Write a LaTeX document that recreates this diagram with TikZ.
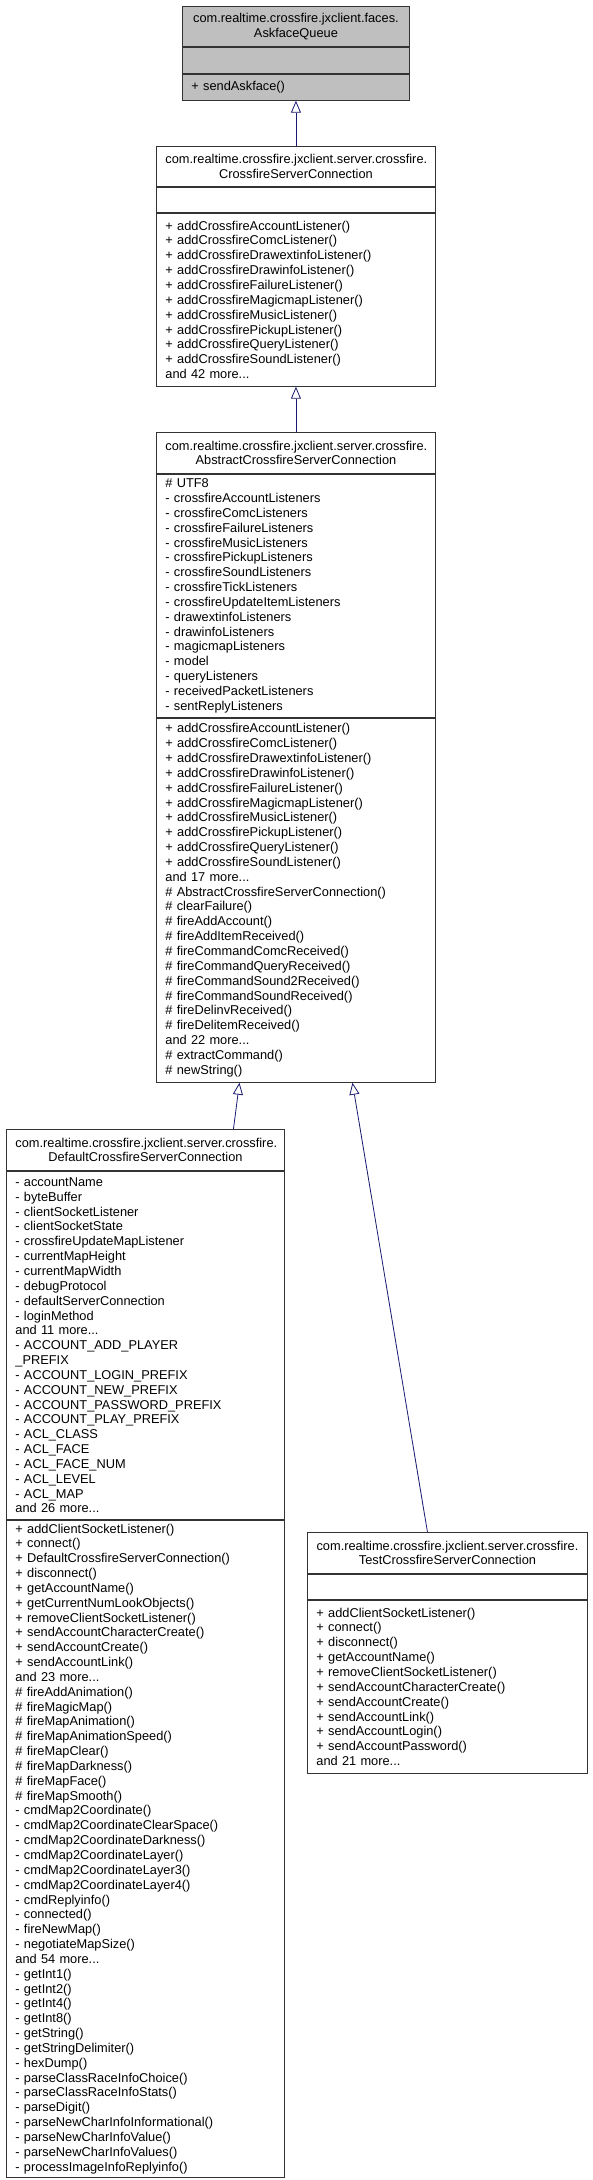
\documentclass[tikz,border=0pt]{standalone}
\usepackage{fontspec}
\setmainfont{Liberation Sans}
\usetikzlibrary{positioning,arrows.meta}
\definecolor{edgeblue}{HTML}{191970}
\definecolor{boxgray}{HTML}{BFBFBF}
\tikzset{
  part/.style={draw=black!80, line width=0.9pt, fill=white, inner xsep=9pt, inner ysep=2pt,
    text width=#1, minimum width=#1+18pt, font=\fontsize{12.8}{14.84}\selectfont},
  classhead/.style={part=#1, align=center, minimum height=40pt},
  classbody/.style 2 args={part=#1, align=left, minimum height=#2},
  inherit/.style={draw=edgeblue, line width=0.8pt, -{Triangle[length=12pt, width=10pt, fill=white]}}
}
\begin{document}
\begin{tikzpicture}[x=1pt,y=-1pt]
\useasboundingbox (0,0) rectangle (592,2180);
% AskfaceQueue
\node[classhead=209, fill=boxgray, anchor=north west] (askhead) at (182,6) {com.realtime.crossfire.jxclient.faces.\\AskfaceQueue};
\node[classbody={209}{26pt}, fill=boxgray, below=0pt of askhead] (askattr) {};
\node[classbody={209}{26pt}, fill=boxgray, below=0pt of askattr] (askmeth) {+ sendAskface()};
% CrossfireServerConnection
\node[classhead=261, anchor=north west] (connhead) at (156,146) {com.realtime.crossfire.jxclient.server.crossfire.\\CrossfireServerConnection};
\node[classbody={261}{25pt}, below=0pt of connhead] (connattr) {};
\node[classbody={261}{173pt}, below=0pt of connattr] (connmeth) {+ addCrossfireAccountListener()\\+ addCrossfireComcListener()\\+ addCrossfireDrawextinfoListener()\\+ addCrossfireDrawinfoListener()\\+ addCrossfireFailureListener()\\+ addCrossfireMagicmapListener()\\+ addCrossfireMusicListener()\\+ addCrossfirePickupListener()\\+ addCrossfireQueryListener()\\+ addCrossfireSoundListener()\\and 42 more...};
% AbstractCrossfireServerConnection
\node[classhead=261, minimum height=41pt, anchor=north west] (abshead) at (156,432) {com.realtime.crossfire.jxclient.server.crossfire.\\AbstractCrossfireServerConnection};
\node[classbody={261}{243pt}, below=0pt of abshead] (absattr) {\# UTF8\\- crossfireAccountListeners\\- crossfireComcListeners\\- crossfireFailureListeners\\- crossfireMusicListeners\\- crossfirePickupListeners\\- crossfireSoundListeners\\- crossfireTickListeners\\- crossfireUpdateItemListeners\\- drawextinfoListeners\\- drawinfoListeners\\- magicmapListeners\\- model\\- queryListeners\\- receivedPacketListeners\\- sentReplyListeners};
\node[classbody={261}{364pt}, below=0pt of absattr] (absmeth) {+ addCrossfireAccountListener()\\+ addCrossfireComcListener()\\+ addCrossfireDrawextinfoListener()\\+ addCrossfireDrawinfoListener()\\+ addCrossfireFailureListener()\\+ addCrossfireMagicmapListener()\\+ addCrossfireMusicListener()\\+ addCrossfirePickupListener()\\+ addCrossfireQueryListener()\\+ addCrossfireSoundListener()\\and 17 more...\\\# AbstractCrossfireServerConnection()\\\# clearFailure()\\\# fireAddAccount()\\\# fireAddItemReceived()\\\# fireCommandComcReceived()\\\# fireCommandQueryReceived()\\\# fireCommandSound2Received()\\\# fireCommandSoundReceived()\\\# fireDelinvReceived()\\\# fireDelitemReceived()\\and 22 more...\\\# extractCommand()\\\# newString()};
% DefaultCrossfireServerConnection
\node[classhead=260, minimum height=41pt, anchor=north west] (defhead) at (6,1129) {com.realtime.crossfire.jxclient.server.crossfire.\\DefaultCrossfireServerConnection};
\node[classbody={260}{348pt}, below=0pt of defhead] (defattr) {- accountName\\- byteBuffer\\- clientSocketListener\\- clientSocketState\\- crossfireUpdateMapListener\\- currentMapHeight\\- currentMapWidth\\- debugProtocol\\- defaultServerConnection\\- loginMethod\\and 11 more...\\- ACCOUNT\_ADD\_PLAYER\\\_PREFIX\\- ACCOUNT\_LOGIN\_PREFIX\\- ACCOUNT\_NEW\_PREFIX\\- ACCOUNT\_PASSWORD\_PREFIX\\- ACCOUNT\_PLAY\_PREFIX\\- ACL\_CLASS\\- ACL\_FACE\\- ACL\_FACE\_NUM\\- ACL\_LEVEL\\- ACL\_MAP\\and 26 more...};
\node[classbody={260}{657pt}, below=0pt of defattr] (defmeth) {+ addClientSocketListener()\\+ connect()\\+ DefaultCrossfireServerConnection()\\+ disconnect()\\+ getAccountName()\\+ getCurrentNumLookObjects()\\+ removeClientSocketListener()\\+ sendAccountCharacterCreate()\\+ sendAccountCreate()\\+ sendAccountLink()\\and 23 more...\\\# fireAddAnimation()\\\# fireMagicMap()\\\# fireMapAnimation()\\\# fireMapAnimationSpeed()\\\# fireMapClear()\\\# fireMapDarkness()\\\# fireMapFace()\\\# fireMapSmooth()\\- cmdMap2Coordinate()\\- cmdMap2CoordinateClearSpace()\\- cmdMap2CoordinateDarkness()\\- cmdMap2CoordinateLayer()\\- cmdMap2CoordinateLayer3()\\- cmdMap2CoordinateLayer4()\\- cmdReplyinfo()\\- connected()\\- fireNewMap()\\- negotiateMapSize()\\and 54 more...\\- getInt1()\\- getInt2()\\- getInt4()\\- getInt8()\\- getString()\\- getStringDelimiter()\\- hexDump()\\- parseClassRaceInfoChoice()\\- parseClassRaceInfoStats()\\- parseDigit()\\- parseNewCharInfoInformational()\\- parseNewCharInfoValue()\\- parseNewCharInfoValues()\\- processImageInfoReplyinfo()};
% TestCrossfireServerConnection
\node[classhead=262, minimum height=41pt, anchor=north west] (testhead) at (307,1532) {com.realtime.crossfire.jxclient.server.crossfire.\\TestCrossfireServerConnection};
\node[classbody={262}{25pt}, below=0pt of testhead] (testattr) {};
\node[classbody={262}{173pt}, below=0pt of testattr] (testmeth) {+ addClientSocketListener()\\+ connect()\\+ disconnect()\\+ getAccountName()\\+ removeClientSocketListener()\\+ sendAccountCharacterCreate()\\+ sendAccountCreate()\\+ sendAccountLink()\\+ sendAccountLogin()\\+ sendAccountPassword()\\and 21 more...};
% generalizations
\draw[inherit] (connhead.north) -- (askmeth.south);
\draw[inherit] (abshead.north) -- (connmeth.south);
\draw[inherit] ([xshift=88pt]defhead.north) -- ([xshift=-56.5pt]absmeth.south);
\draw[inherit] ([xshift=-20pt]testhead.north) -- ([xshift=56.5pt]absmeth.south);
\end{tikzpicture}
\end{document}
